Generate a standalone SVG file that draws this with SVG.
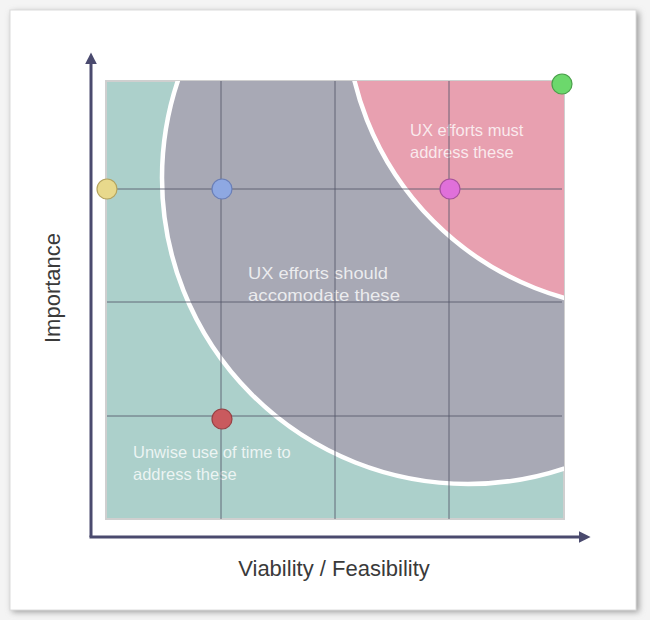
<svg xmlns="http://www.w3.org/2000/svg" width="650" height="620" viewBox="0 0 650 620">
  <defs>
    <filter id="shadow" x="-5%" y="-5%" width="110%" height="110%">
      <feGaussianBlur stdDeviation="3"/>
    </filter>
    <clipPath id="plotClip">
      <rect x="106" y="81" width="458" height="438"/>
    </clipPath>
    <marker id="arrow" viewBox="0 0 10 10" refX="2" refY="5" markerWidth="4" markerHeight="4" orient="auto" markerUnits="strokeWidth">
      <path d="M0,0 L10,5 L0,10 Z" fill="#4a4a6e"/>
    </marker>
    <style>
      .zone-label { font-family: "Liberation Sans", Arial, sans-serif; font-size: 16.5px; fill: #ffffff; fill-opacity: 0.78; }
      .axis-label { font-family: "Liberation Sans", Arial, sans-serif; font-size: 22px; fill: #3a3a3a; }
      .grid { stroke: #55586a; stroke-width: 1; stroke-opacity: 0.85; fill: none; }
      .axis { stroke: #4a4a6e; stroke-width: 3; fill: none; }
      .dot { stroke-width: 1.2; }
    </style>
  </defs>

  <rect x="0" y="0" width="650" height="620" fill="#f4f4f4"/>
  <rect x="12" y="12" width="627" height="600" fill="#9a9a9a" filter="url(#shadow)"/>
  <rect x="10" y="10" width="626" height="600" fill="#ffffff" stroke="#dcdcdc" stroke-width="1"/>

  <g id="plot">
    <rect x="106" y="81" width="458" height="438" fill="#acd0cb" stroke="#cfcfcf" stroke-width="2"/>
    <g clip-path="url(#plotClip)">
      <circle id="zone-should" cx="468" cy="178" r="306" fill="#a8a9b5" stroke="#ffffff" stroke-width="4.5"/>
      <circle id="zone-must" cx="645" cy="10" r="299" fill="#e8a0b0" stroke="#ffffff" stroke-width="4.5"/>
    </g>
  </g>

  <g id="labels">
    <text class="zone-label" x="410" y="136">UX efforts must</text>
    <text class="zone-label" x="410" y="158">address these</text>
    <text class="zone-label" x="248" y="279" textLength="140" lengthAdjust="spacingAndGlyphs">UX efforts should</text>
    <text class="zone-label" x="248" y="301" textLength="152" lengthAdjust="spacingAndGlyphs">accomodate these</text>
    <text class="zone-label" x="133" y="458">Unwise use of time to</text>
    <text class="zone-label" x="133" y="480">address these</text>
  </g>

  <g id="connectors">
    <line class="grid" x1="221" y1="81" x2="221" y2="519"/>
    <line class="grid" x1="335" y1="81" x2="335" y2="519"/>
    <line class="grid" x1="449" y1="81" x2="449" y2="519"/>
    <line class="grid" x1="107" y1="189" x2="562" y2="189"/>
    <line class="grid" x1="107" y1="302" x2="562" y2="302"/>
    <line class="grid" x1="107" y1="416" x2="562" y2="416"/>
    <line class="axis" x1="91" y1="537" x2="91" y2="62" marker-end="url(#arrow)"/>
    <line class="axis" x1="89.5" y1="537" x2="581" y2="537" marker-end="url(#arrow)"/>
  </g>

  <g id="dot-yellow"><circle class="dot" cx="107" cy="189" r="10" fill="#e8d98c" stroke="#b5a45e"/></g>
  <g id="dot-blue"><circle class="dot" cx="222" cy="189" r="10" fill="#8ea8e2" stroke="#6a7fb8"/></g>
  <g id="dot-magenta"><circle class="dot" cx="450" cy="189" r="10" fill="#e070da" stroke="#a8509e"/></g>
  <g id="dot-green"><circle class="dot" cx="562" cy="84" r="10" fill="#6cd86c" stroke="#4aa04a"/></g>
  <g id="dot-red"><circle class="dot" cx="222" cy="419" r="10" fill="#c95a5e" stroke="#984044"/></g>

  <g id="axis-labels">
    <text class="axis-label" x="334" y="576" text-anchor="middle">Viability / Feasibility</text>
    <text class="axis-label" transform="translate(60,288) rotate(-90)" text-anchor="middle">Importance</text>
  </g>
</svg>
